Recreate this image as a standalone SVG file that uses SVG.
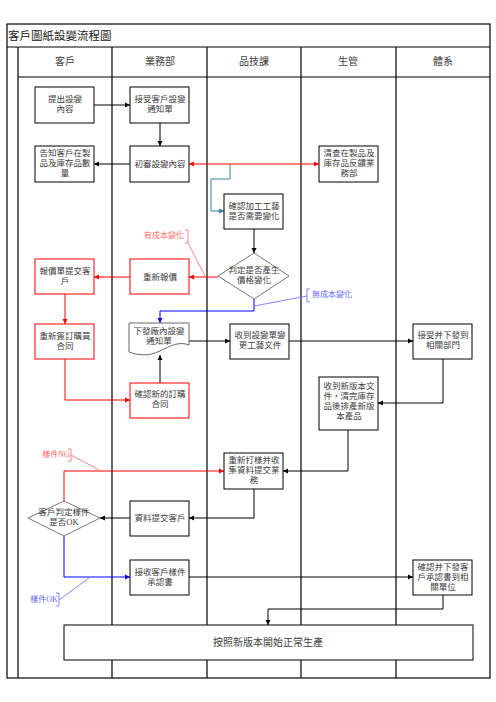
<svg xmlns="http://www.w3.org/2000/svg" width="496" height="702" viewBox="0 0 496 702">
<style>
text{font-family:"Liberation Serif","Noto Sans CJK TC",serif;fill:#404040;text-anchor:middle;font-size:8.5px}
.title{font-size:11.5px;text-anchor:start;fill:#222}
.hdr{font-size:10px}
.big{font-size:10px}
.frame{fill:none;stroke:#000;stroke-width:1.2}
.box{fill:#fff;stroke:#000;stroke-width:1}
.rbox{fill:#fff;stroke:#f00;stroke-width:1}
.dia{fill:#fff;stroke:#555;stroke-width:0.8}
.k{fill:none;stroke:#000;stroke-width:1;marker-end:url(#ak)}
.r{fill:none;stroke:#f00;stroke-width:1;marker-end:url(#ar)}
.b{fill:none;stroke:#00f;stroke-width:1;marker-end:url(#ab)}
.t{fill:none;stroke:#31849b;stroke-width:1;marker-end:url(#at)}
.cr{fill:none;stroke:#ff6666;stroke-width:0.8}
.cb{fill:none;stroke:#6666ff;stroke-width:0.8}
.tr{fill:#ff6666;font-size:8px}
.tb{fill:#6666ff;font-size:8px}
</style>
<defs>
<marker id="ak" markerWidth="6" markerHeight="6" refX="5" refY="3" orient="auto" markerUnits="userSpaceOnUse"><path d="M0,0.5 L5,3 L0,5.5 Z" fill="#000"/></marker>
<marker id="ar" markerWidth="6" markerHeight="6" refX="5" refY="3" orient="auto-start-reverse" markerUnits="userSpaceOnUse"><path d="M0,0.5 L5,3 L0,5.5 Z" fill="#f00"/></marker>
<marker id="ab" markerWidth="6" markerHeight="6" refX="5" refY="3" orient="auto" markerUnits="userSpaceOnUse"><path d="M0,0.5 L5,3 L0,5.5 Z" fill="#00f"/></marker>
<marker id="at" markerWidth="6" markerHeight="6" refX="5" refY="3" orient="auto" markerUnits="userSpaceOnUse"><path d="M0,0.5 L5,3 L0,5.5 Z" fill="#31849b"/></marker>
</defs>
<rect width="496" height="702" fill="#fff"/>
<g id="frame">
<rect class="frame" x="7" y="24" width="483" height="654"/>
<line class="frame" x1="7" y1="47" x2="490" y2="47"/>
<line class="frame" x1="18" y1="77" x2="490" y2="77"/>
<line class="frame" x1="18" y1="47" x2="18" y2="678"/>
<line class="frame" x1="112" y1="47" x2="112" y2="678"/>
<line class="frame" x1="207" y1="47" x2="207" y2="678"/>
<line class="frame" x1="301" y1="47" x2="301" y2="678"/>
<line class="frame" x1="396" y1="47" x2="396" y2="678"/>
<text class="title" x="8" y="40">客戶圖紙設變流程圖</text>
<text class="hdr" x="65" y="65">客戶</text>
<text class="hdr" x="160" y="65">業務部</text>
<text class="hdr" x="254" y="65">品技課</text>
<text class="hdr" x="348" y="65">生管</text>
<text class="hdr" x="443" y="65">體系</text>
</g>
<g id="connectors">
<path class="k" d="M94,105 H130"/>
<path class="k" d="M160,123 V146"/>
<path class="k" d="M130,164 H94"/>
<path d="M189,164 H319" fill="none" stroke="#f00" stroke-width="1" marker-start="url(#ar)" marker-end="url(#ar)"/>
<path class="t" d="M230,164 V179 H211 V211 H224"/>
<path class="k" d="M254,229 V253"/>
<path class="r" d="M218,277 H189"/>
<path class="r" d="M130,277 H94"/>
<path class="r" d="M65,294 V324"/>
<path class="r" d="M65,359 V400 H130"/>
<path class="k" d="M160,383 V355"/>
<path class="b" d="M254,299 V311 H160 V323"/>
<path class="k" d="M189,341 H230"/>
<path class="k" d="M289,341 H413"/>
<path class="k" d="M443,359 V403 H378"/>
<path class="k" d="M348,430 V471 H283"/>
<path class="k" d="M254,489 V518 H189"/>
<path class="k" d="M130,518 H100"/>
<path class="r" d="M64,501 V471 H224"/>
<path class="b" d="M64,536 V577 H130"/>
<path class="k" d="M189,577 H413"/>
<path class="k" d="M443,595 V609 H268 V625"/>
</g>
<g id="callouts">
<text class="tr" x="164" y="238">有成本變化</text>
<path class="cr" d="M185,230 H188 V243 H185 M188,243 L205,276"/>
<text class="tb" x="332" y="297">無成本變化</text>
<path class="cb" d="M310,289 H307 V302 H310 M307,296 L254,306"/>
<text class="tr" x="56" y="457">樣件NG</text>
<path class="cr" d="M68,449 H71 V461 H68 M71,455 L101,471"/>
<text class="tb" x="44" y="602">樣件OK</text>
<path class="cb" d="M56,593 H59 V606 H56 M59,600 L89,578"/>
</g>
<g id="n1"><rect class="box" x="35" y="87" width="59" height="36"/><text x="65" y="102">提出設變</text><text x="65" y="112">內容</text></g>
<g id="n2"><rect class="box" x="130" y="87" width="59" height="36"/><text x="160" y="102">接受客戶設變</text><text x="160" y="112">通知單</text></g>
<g id="n3"><rect class="box" x="35" y="146" width="59" height="36"/><text x="65" y="156">告知客戶在製</text><text x="65" y="166">品及庫存品數</text><text x="65" y="176">量</text></g>
<g id="n4"><rect class="box" x="130" y="146" width="59" height="36"/><text x="160" y="167">初審設變內容</text></g>
<g id="n5"><rect class="box" x="319" y="146" width="59" height="36"/><text x="349" y="156">清查在製品及</text><text x="349" y="166">庫存品反饋業</text><text x="349" y="176">務部</text></g>
<g id="n6"><rect class="box" x="224" y="194" width="59" height="35"/><text x="254" y="209">確認加工工藝</text><text x="254" y="219">是否需要變化</text></g>
<g id="n7"><path class="dia" d="M254,253 L289,276 L254,299 L218,276 Z"/><text x="254" y="273">判定是否產生</text><text x="254" y="283">價格變化</text></g>
<g id="n8"><rect class="rbox" x="130" y="259" width="59" height="35"/><text x="160" y="280">重新報價</text></g>
<g id="n9"><rect class="rbox" x="35" y="259" width="59" height="35"/><text x="65" y="274">報價單提交客</text><text x="65" y="284">戶</text></g>
<g id="n10"><rect class="rbox" x="35" y="324" width="59" height="35"/><text x="65" y="339">重新簽訂購買</text><text x="65" y="349">合同</text></g>
<g id="n11"><path d="M129,323 H189 V345 C179,341 170,346 160,351 C150,356 140,356 129,352 Z" fill="#fff" stroke="#666" stroke-width="1"/><text x="159" y="334">下發廠內設變</text><text x="159" y="344">通知單</text></g>
<g id="n12"><rect class="rbox" x="130" y="383" width="59" height="35"/><text x="160" y="397">確認新的訂購</text><text x="160" y="407">合同</text></g>
<g id="n13"><rect class="box" x="230" y="324" width="59" height="35"/><text x="260" y="338">收到設變單變</text><text x="260" y="348">更工藝文件</text></g>
<g id="n14"><rect class="box" x="413" y="324" width="59" height="35"/><text x="443" y="338">接受并下發到</text><text x="443" y="348">相關部門</text></g>
<g id="n15"><rect class="box" x="319" y="377" width="59" height="53"/><text x="349" y="389">收到新版本文</text><text x="349" y="399">件，清完庫存</text><text x="349" y="409">品後排產新版</text><text x="349" y="419">本產品</text></g>
<g id="n16"><rect class="box" x="224" y="453" width="59" height="36"/><text x="254" y="463">重新打樣并收</text><text x="254" y="473">集資料提交業</text><text x="254" y="483">務</text></g>
<g id="n17"><rect class="box" x="130" y="501" width="59" height="35"/><text x="160" y="521">資料提交客戶</text></g>
<g id="n18"><path class="dia" d="M64,501 L100,518 L64,536 L28,518 Z"/><text x="64" y="515">客戶判定樣件</text><text x="64" y="525">是否OK</text></g>
<g id="n19"><rect class="box" x="130" y="560" width="59" height="35"/><text x="160" y="575">接收客戶樣件</text><text x="160" y="585">承認書</text></g>
<g id="n20"><rect class="box" x="413" y="560" width="59" height="35"/><text x="443" y="570">確認并下發客</text><text x="443" y="580">戶承認書到相</text><text x="443" y="590">關單位</text></g>
<g id="n21"><rect class="box" x="64" y="625" width="409" height="35"/><text class="big" x="268" y="646">按照新版本開始正常生產</text></g>
</svg>
